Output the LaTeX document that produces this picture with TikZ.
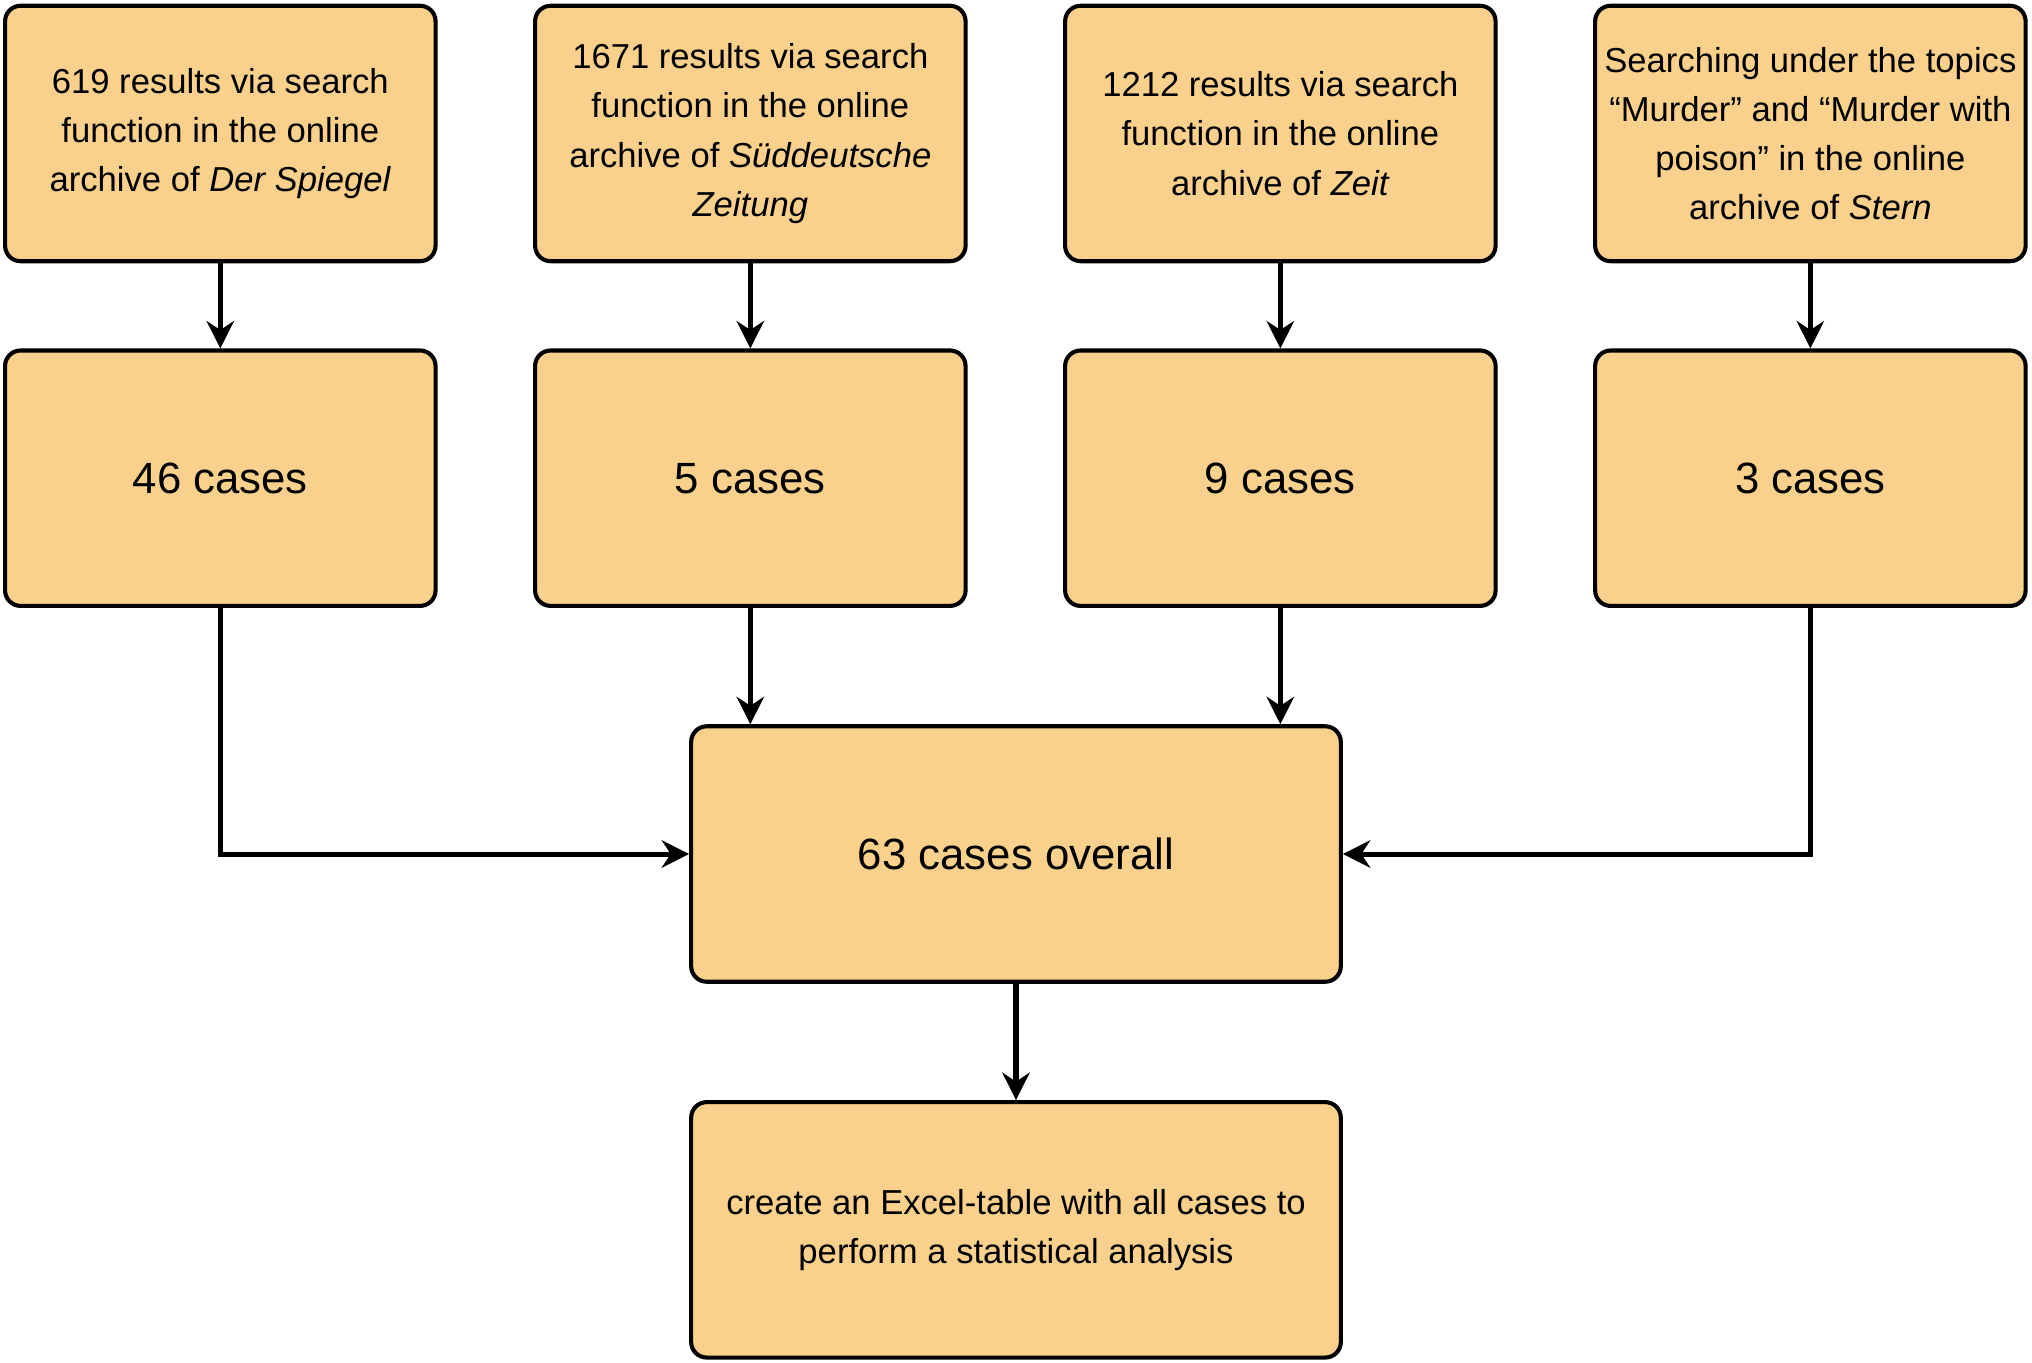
\documentclass[tikz,border=0pt]{standalone}
\usepackage{fontspec}
\setmainfont{Liberation Sans}
\usetikzlibrary{arrows.meta}
\definecolor{boxfill}{HTML}{F9D18C}
\begin{document}
\begin{tikzpicture}[x=0.01cm,y=-0.01cm,
  box/.style={draw=black,line width=0.9pt,fill=boxfill,rounded corners=0.12cm,minimum width=3.32cm,minimum height=1.97cm,inner sep=1pt,align=center},
  small/.style={font=\fontsize{7.6}{10.8}\selectfont},
  big/.style={font=\fontsize{9.6}{12}\selectfont},
  arr/.style={-{Stealth[length=6pt,width=6pt]},line width=1.1pt}]
\useasboundingbox (0,0) rectangle (1568,1051);
\node[box,small] (a1) at (170,103) {619 results via search\\function in the online\\archive of \textit{Der Spiegel}};
\node[box,small] (a2) at (579,103) {1671 results via search\\function in the online\\archive of \textit{Süddeutsche}\\\textit{Zeitung}};
\node[box,small] (a3) at (988,103) {1212 results via search\\function in the online\\archive of \textit{Zeit}};
\node[box,small] (a4) at (1397,103) {Searching under the topics\\“Murder” and “Murder with\\poison” in the online\\archive of \textit{Stern}};
\node[box,big] (b1) at (170,369) {46 cases};
\node[box,big] (b2) at (579,369) {5 cases};
\node[box,big] (b3) at (988,369) {9 cases};
\node[box,big] (b4) at (1397,369) {3 cases};
\node[box,big,minimum width=5.01cm] (c) at (784,659) {63 cases overall};
\node[box,small,minimum width=5.01cm] (d) at (784,949) {create an Excel-table with all cases to\\perform a statistical analysis};
\foreach \i in {1,...,4} \draw[arr] (a\i) -- (b\i);
\draw[arr] (b2.south) -- (b2.south |- c.north);
\draw[arr] (b3.south) -- (b3.south |- c.north);
\draw[arr] (b1.south) |- (c.west);
\draw[arr] (b4.south) |- (c.east);
\draw[arr] (c) -- (d);
\end{tikzpicture}
\end{document}
